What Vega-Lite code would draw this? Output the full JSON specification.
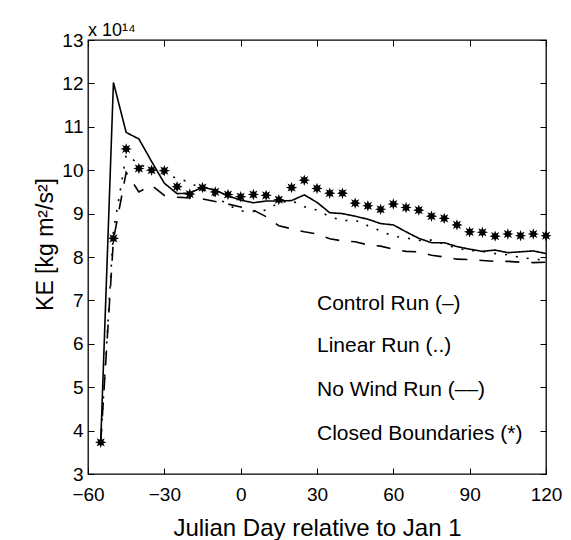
{
  "$schema": "https://vega.github.io/schema/vega-lite/v6.json",
  "width": 458,
  "height": 434,
  "autosize": {"type": "none"},
  "padding": {"left": 88, "top": 40, "right": 25, "bottom": 66},
  "background": "white",
  "config": {
    "font": "Liberation Sans",
    "view": {"stroke": "black", "strokeWidth": 1.3},
    "axis": {
      "domain": false,
      "grid": false,
      "labelFlush": false,
      "tickColor": "black",
      "tickSize": -6,
      "tickWidth": 1,
      "labelColor": "black",
      "labelFont": "Liberation Sans",
      "labelFontSize": 19,
      "titleFont": "Liberation Sans",
      "titleFontSize": 24,
      "titleFontWeight": "normal",
      "titleColor": "black"
    }
  },
  "title": {
    "text": "x 10¹⁴",
    "anchor": "start",
    "frame": "group",
    "fontSize": 18,
    "fontWeight": "normal",
    "font": "Liberation Sans",
    "color": "black",
    "offset": 0,
    "dy": 9
  },
  "datasets": {
    "runs": [
      {"day": -55, "ke": 3.73, "run": "Control"},
      {"day": -50, "ke": 12.02, "run": "Control"},
      {"day": -45, "ke": 10.87, "run": "Control"},
      {"day": -40, "ke": 10.72, "run": "Control"},
      {"day": -35, "ke": 10.2, "run": "Control"},
      {"day": -30, "ke": 9.7, "run": "Control"},
      {"day": -25, "ke": 9.46, "run": "Control"},
      {"day": -20, "ke": 9.47, "run": "Control"},
      {"day": -15, "ke": 9.61, "run": "Control"},
      {"day": -10, "ke": 9.54, "run": "Control"},
      {"day": -5, "ke": 9.41, "run": "Control"},
      {"day": 0, "ke": 9.31, "run": "Control"},
      {"day": 5, "ke": 9.25, "run": "Control"},
      {"day": 10, "ke": 9.29, "run": "Control"},
      {"day": 15, "ke": 9.29, "run": "Control"},
      {"day": 20, "ke": 9.3, "run": "Control"},
      {"day": 25, "ke": 9.43, "run": "Control"},
      {"day": 30, "ke": 9.26, "run": "Control"},
      {"day": 35, "ke": 9.02, "run": "Control"},
      {"day": 40, "ke": 9.0, "run": "Control"},
      {"day": 45, "ke": 8.94, "run": "Control"},
      {"day": 50, "ke": 8.87, "run": "Control"},
      {"day": 55, "ke": 8.77, "run": "Control"},
      {"day": 60, "ke": 8.74, "run": "Control"},
      {"day": 65, "ke": 8.58, "run": "Control"},
      {"day": 70, "ke": 8.43, "run": "Control"},
      {"day": 75, "ke": 8.33, "run": "Control"},
      {"day": 80, "ke": 8.33, "run": "Control"},
      {"day": 85, "ke": 8.24, "run": "Control"},
      {"day": 90, "ke": 8.18, "run": "Control"},
      {"day": 95, "ke": 8.13, "run": "Control"},
      {"day": 100, "ke": 8.16, "run": "Control"},
      {"day": 105, "ke": 8.1, "run": "Control"},
      {"day": 110, "ke": 8.12, "run": "Control"},
      {"day": 115, "ke": 8.14, "run": "Control"},
      {"day": 120, "ke": 8.08, "run": "Control"},
      {"day": -55, "ke": 3.73, "run": "Linear"},
      {"day": -50, "ke": 8.6, "run": "Linear"},
      {"day": -45, "ke": 10.35, "run": "Linear"},
      {"day": -40, "ke": 10.15, "run": "Linear"},
      {"day": -35, "ke": 10.0, "run": "Linear"},
      {"day": -30, "ke": 9.9, "run": "Linear"},
      {"day": -25, "ke": 9.82, "run": "Linear"},
      {"day": -20, "ke": 9.72, "run": "Linear"},
      {"day": -15, "ke": 9.55, "run": "Linear"},
      {"day": -10, "ke": 9.4, "run": "Linear"},
      {"day": -5, "ke": 9.2, "run": "Linear"},
      {"day": 0, "ke": 9.06, "run": "Linear"},
      {"day": 5, "ke": 9.05, "run": "Linear"},
      {"day": 10, "ke": 9.08, "run": "Linear"},
      {"day": 15, "ke": 9.25, "run": "Linear"},
      {"day": 20, "ke": 9.3, "run": "Linear"},
      {"day": 25, "ke": 9.16, "run": "Linear"},
      {"day": 30, "ke": 9.08, "run": "Linear"},
      {"day": 35, "ke": 8.93, "run": "Linear"},
      {"day": 40, "ke": 8.84, "run": "Linear"},
      {"day": 45, "ke": 8.85, "run": "Linear"},
      {"day": 50, "ke": 8.72, "run": "Linear"},
      {"day": 55, "ke": 8.6, "run": "Linear"},
      {"day": 60, "ke": 8.48, "run": "Linear"},
      {"day": 65, "ke": 8.44, "run": "Linear"},
      {"day": 70, "ke": 8.38, "run": "Linear"},
      {"day": 75, "ke": 8.39, "run": "Linear"},
      {"day": 80, "ke": 8.3, "run": "Linear"},
      {"day": 85, "ke": 8.2, "run": "Linear"},
      {"day": 90, "ke": 8.15, "run": "Linear"},
      {"day": 95, "ke": 8.13, "run": "Linear"},
      {"day": 100, "ke": 8.08, "run": "Linear"},
      {"day": 105, "ke": 8.05, "run": "Linear"},
      {"day": 110, "ke": 7.99, "run": "Linear"},
      {"day": 115, "ke": 7.95, "run": "Linear"},
      {"day": 120, "ke": 7.93, "run": "Linear"},
      {"day": -55, "ke": 3.73, "run": "NoWind"},
      {"day": -50, "ke": 8.4, "run": "NoWind"},
      {"day": -45, "ke": 9.95, "run": "NoWind"},
      {"day": -40, "ke": 9.5, "run": "NoWind"},
      {"day": -35, "ke": 9.65, "run": "NoWind"},
      {"day": -30, "ke": 9.42, "run": "NoWind"},
      {"day": -25, "ke": 9.38, "run": "NoWind"},
      {"day": -20, "ke": 9.36, "run": "NoWind"},
      {"day": -15, "ke": 9.34, "run": "NoWind"},
      {"day": -10, "ke": 9.28, "run": "NoWind"},
      {"day": -5, "ke": 9.22, "run": "NoWind"},
      {"day": 0, "ke": 9.15, "run": "NoWind"},
      {"day": 5, "ke": 9.08, "run": "NoWind"},
      {"day": 10, "ke": 8.93, "run": "NoWind"},
      {"day": 15, "ke": 8.72, "run": "NoWind"},
      {"day": 20, "ke": 8.65, "run": "NoWind"},
      {"day": 25, "ke": 8.58, "run": "NoWind"},
      {"day": 30, "ke": 8.53, "run": "NoWind"},
      {"day": 35, "ke": 8.42, "run": "NoWind"},
      {"day": 40, "ke": 8.37, "run": "NoWind"},
      {"day": 45, "ke": 8.35, "run": "NoWind"},
      {"day": 50, "ke": 8.28, "run": "NoWind"},
      {"day": 55, "ke": 8.25, "run": "NoWind"},
      {"day": 60, "ke": 8.18, "run": "NoWind"},
      {"day": 65, "ke": 8.13, "run": "NoWind"},
      {"day": 70, "ke": 8.12, "run": "NoWind"},
      {"day": 75, "ke": 8.04, "run": "NoWind"},
      {"day": 80, "ke": 8.0, "run": "NoWind"},
      {"day": 85, "ke": 7.95, "run": "NoWind"},
      {"day": 90, "ke": 7.94, "run": "NoWind"},
      {"day": 95, "ke": 7.92, "run": "NoWind"},
      {"day": 100, "ke": 7.9, "run": "NoWind"},
      {"day": 105, "ke": 7.9, "run": "NoWind"},
      {"day": 110, "ke": 7.88, "run": "NoWind"},
      {"day": 115, "ke": 7.87, "run": "NoWind"},
      {"day": 120, "ke": 7.88, "run": "NoWind"}
    ],
    "closed": [
      {"day": -55, "ke": 3.73}, {"day": -50, "ke": 8.43}, {"day": -45, "ke": 10.49},
      {"day": -40, "ke": 10.04}, {"day": -35, "ke": 10.0}, {"day": -30, "ke": 9.99},
      {"day": -25, "ke": 9.62}, {"day": -20, "ke": 9.45}, {"day": -15, "ke": 9.6},
      {"day": -10, "ke": 9.5}, {"day": -5, "ke": 9.44}, {"day": 0, "ke": 9.39},
      {"day": 5, "ke": 9.44}, {"day": 10, "ke": 9.42}, {"day": 15, "ke": 9.32},
      {"day": 20, "ke": 9.6}, {"day": 25, "ke": 9.77}, {"day": 30, "ke": 9.58},
      {"day": 35, "ke": 9.47}, {"day": 40, "ke": 9.47}, {"day": 45, "ke": 9.24},
      {"day": 50, "ke": 9.18}, {"day": 55, "ke": 9.1}, {"day": 60, "ke": 9.22},
      {"day": 65, "ke": 9.14}, {"day": 70, "ke": 9.08}, {"day": 75, "ke": 8.94},
      {"day": 80, "ke": 8.89}, {"day": 85, "ke": 8.74}, {"day": 90, "ke": 8.58},
      {"day": 95, "ke": 8.57}, {"day": 100, "ke": 8.48}, {"day": 105, "ke": 8.53},
      {"day": 110, "ke": 8.49}, {"day": 115, "ke": 8.53}, {"day": 120, "ke": 8.49}
    ],
    "notes": [
      {"day": 30, "ke": 6.78, "label": "Control Run (–)"},
      {"day": 30, "ke": 5.8, "label": "Linear Run (..)"},
      {"day": 30, "ke": 4.8, "label": "No Wind Run (––)"},
      {"day": 30, "ke": 3.78, "label": "Closed Boundaries (*)"}
    ]
  },
  "layer": [
    {
      "data": {"name": "runs"},
      "mark": {"type": "line", "color": "black", "strokeWidth": 1.6, "clip": true},
      "encoding": {
        "x": {
          "field": "day", "type": "quantitative",
          "scale": {"domain": [-60, 120], "nice": false, "zero": false},
          "axis": {"values": [-60, -30, 0, 30, 60, 90, 120], "labelPadding": 17, "title": "Julian Day relative to Jan 1", "titlePadding": 12}
        },
        "y": {
          "field": "ke", "type": "quantitative",
          "scale": {"domain": [3, 13], "nice": false, "zero": false},
          "axis": {"values": [3, 4, 5, 6, 7, 8, 9, 10, 11, 12, 13], "labelPadding": 11, "title": "KE [kg m²/s²]", "titleFontSize": 23, "titlePadding": 4, "titleY": 204}
        },
        "detail": {"field": "run"},
        "strokeDash": {
          "field": "run", "type": "nominal",
          "scale": {"domain": ["Control", "Linear", "NoWind"], "range": [[1, 0], [2, 9], [14, 12]]},
          "legend": null
        }
      }
    },
    {
      "data": {"name": "closed"},
      "mark": {
        "type": "point",
        "shape": "M1,0L0.46,0.19L0.71,0.71L0.19,0.46L0,1L-0.19,0.46L-0.71,0.71L-0.46,0.19L-1,0L-0.46,-0.19L-0.71,-0.71L-0.19,-0.46L0,-1L0.19,-0.46L0.71,-0.71L0.46,-0.19Z",
        "filled": true,
        "color": "black",
        "opacity": 1,
        "size": 130
      },
      "encoding": {
        "x": {"field": "day", "type": "quantitative", "axis": {"orient": "top", "values": [-60, -30, 0, 30, 60, 90, 120], "labels": false, "title": null}},
        "y": {"field": "ke", "type": "quantitative", "axis": {"orient": "right", "values": [3, 4, 5, 6, 7, 8, 9, 10, 11, 12, 13], "labels": false, "title": null}}
      }
    },
    {
      "data": {"name": "notes"},
      "mark": {"type": "text", "align": "left", "baseline": "alphabetic", "fontSize": 21, "font": "Liberation Sans", "color": "black"},
      "encoding": {
        "x": {"field": "day", "type": "quantitative", "axis": null},
        "y": {"field": "ke", "type": "quantitative", "axis": null},
        "text": {"field": "label"}
      }
    }
  ],
  "resolve": {"axis": {"x": "independent", "y": "independent"}}
}
